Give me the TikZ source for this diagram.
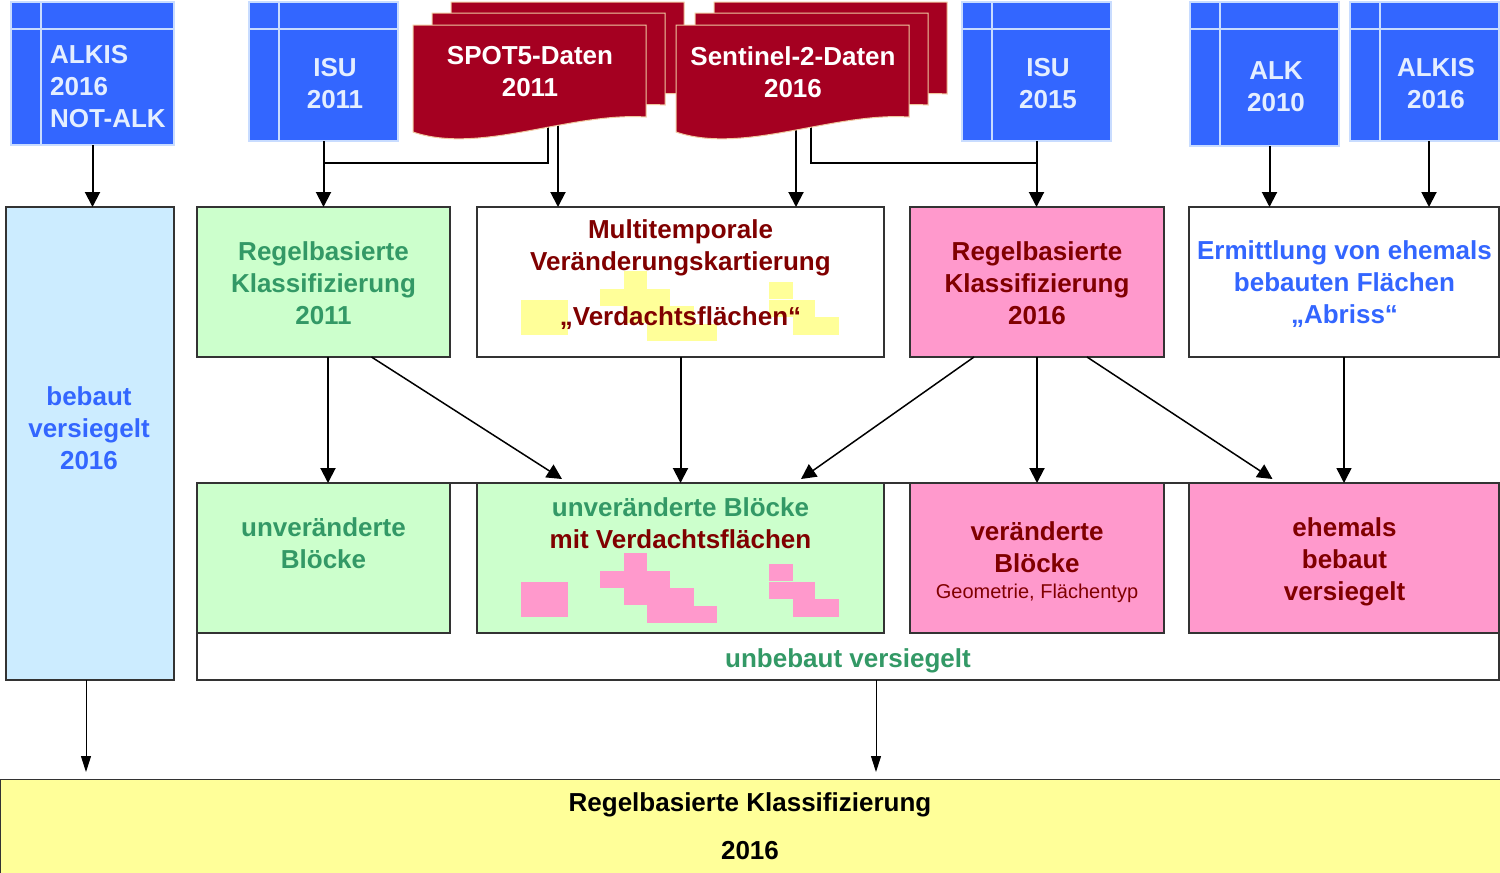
\documentclass[tikz,border=0pt]{standalone}
\usepackage{fontspec}
\setmainfont{Liberation Sans}
\usetikzlibrary{arrows.meta,fit,calc}
\definecolor{dbblue}{HTML}{3366FF}
\definecolor{dbedge}{HTML}{C8DCFF}
\definecolor{dbtext}{HTML}{E4EEFF}
\definecolor{docred}{HTML}{A50021}
\definecolor{docedge}{HTML}{F0C8A0}
\definecolor{grfill}{HTML}{CCFFCC}
\definecolor{grtext}{HTML}{339966}
\definecolor{drtext}{HTML}{800000}
\definecolor{bltext}{HTML}{3366FF}
\definecolor{lbfill}{HTML}{CCECFF}
\definecolor{pkfill}{HTML}{FF99CC}
\definecolor{ylfill}{HTML}{FFFF99}
\definecolor{boxline}{HTML}{333333}
\tikzset{
  bx/.style={draw=boxline, line width=1.5pt, inner sep=0pt, outer sep=0pt, align=center},
  db/.style={draw=dbedge, fill=dbblue, line width=1.2pt, inner sep=0pt, outer sep=0pt},
  dbln/.style={draw=dbedge, line width=1.5pt},
  dbtxt/.style={text=dbtext, align=center},
  docst/.style={fill=docred, draw=docedge, line width=1pt},
  doc/.pic={\path[docst] (0,0) -- ++(233,0) -- ++(0,92) .. controls +(-76,-5) and +(67,23) .. ++(-233,15) -- cycle;},
  arr/.style={line width=2pt, -{Triangle[width=15pt,length=15pt]}},
  arrd/.style={line width=1.5pt, -{Triangle[width=15pt,length=15pt]}},
  arrt/.style={line width=1pt, -{Triangle[width=10pt,length=16pt]}},
  ln/.style={line width=2pt},
  txt/.style={align=center, inner sep=0pt},
  small/.style={font=\fontsize{20}{24}\selectfont}
}
\newcommand\dbbox[5]{%
  \node[db, fit={(#2,#3) (#4,#5)}] (#1) {};
  \draw[dbln] ([xshift=30pt]#1.north west) -- ([xshift=30pt]#1.south west);
  \draw[dbln] ([yshift=-27pt]#1.north west) -- ([yshift=-27pt]#1.north east);
}
\newcommand\blockpattern[2]{%
  \begin{scope}[yshift=#2]
    \fill[#1] (521,582) rectangle (568,617);
    \fill[#1] (600,571) rectangle (647,588);
    \fill[#1] (624,553) rectangle (647,605);
    \fill[#1] (647,571) rectangle (670,623);
    \fill[#1] (670,588) rectangle (694,623);
    \fill[#1] (694,606) rectangle (717,623);
    \fill[#1] (769,564) rectangle (793,581);
    \fill[#1] (769,582) rectangle (815,599);
    \fill[#1] (793,599) rectangle (815,617);
    \fill[#1] (815,599) rectangle (839,617);
  \end{scope}}
\begin{document}
\begin{tikzpicture}[x=1pt,y=-1pt,font=\bfseries\fontsize{26}{32}\selectfont]
\useasboundingbox (0,0) rectangle (1500,873);
\fill[white] (0,0) rectangle (1500,873);

% containers and boxes
\node[bx, fill=white, fit={(197,483) (1499,680)}] (ub) {};
\node[bx, fill=lbfill, fit={(6,207) (174,680)}] (bv) {};
\node[bx, fill=grfill, fit={(197,207) (450,357)}] (r11) {};
\node[bx, fill=white, fit={(477,207) (884,357)}] (mt) {};
\node[bx, fill=pkfill, fit={(910,207) (1164,357)}] (r16) {};
\node[bx, fill=white, fit={(1189,207) (1499,357)}] (erm) {};
\node[bx, fill=grfill, fit={(197,483) (450,633)}] (uv) {};
\node[bx, fill=grfill, fit={(477,483) (884,633)}] (mv) {};
\node[bx, fill=pkfill, fit={(910,483) (1164,633)}] (vc) {};
\node[bx, fill=pkfill, fit={(1189,483) (1499,633)}] (eb) {};
\node[bx, line width=1pt, fill=ylfill, fit={(0,779) (1500,873)}] (yl) {};

% block patterns
\blockpattern{ylfill}{282pt}
\blockpattern{pkfill}{0pt}

% texts
\node[txt, text=bltext] (bvt) at (89,427.8) {bebaut\\versiegelt\\2016};
\node[txt, text=grtext] (r11t) at (323.5,282.8) {Regelbasierte\\Klassifizierung\\2011};
\node[txt, text=drtext] (mtt1) at (680.5,247.5) {Multitemporale\\Veränderungskartierung};
\node[txt, text=drtext] (mtt2) at (680.5,318) {„Verdachtsflächen“};
\node[txt, text=drtext] (r16t) at (1037,282.8) {Regelbasierte\\Klassifizierung\\2016};
\node[txt, text=bltext] (ermt) at (1344.5,284.1) {Ermittlung von ehemals\\bebauten Flächen\\„Abriss“};
\node[txt, text=grtext] (uvt) at (323.5,542.8) {unveränderte\\Blöcke};
\node[txt] (mvt) at (680.5,522.8) {\textcolor{grtext}{unveränderte Blöcke}\\\textcolor{drtext}{mit Verdachtsflächen}};
\node[txt, text=drtext] (vct) at (1037,546.8) {veränderte\\Blöcke};
\node[txt, text=drtext, small] (vcs) at (1037,593) {Geometrie, Flächentyp};
\node[txt, text=drtext] (ebt) at (1344.5,561.5) {ehemals\\bebaut\\versiegelt};
\node[txt, text=grtext] (ubt) at (848,660.5) {unbebaut versiegelt};
\node[txt] (ylt1) at (750,804.5) {Regelbasierte Klassifizierung};
\node[txt] (ylt2) at (750,851) {2016};

% doc connector anchors
\coordinate (spa) at (548,120);
\coordinate (spb) at (558,120);
\coordinate (sea) at (811,120);
\coordinate (seb) at (796,120);

% data source icons (boxes only, for connector anchors)
\dbbox{alkn}{11}{2}{174}{145}
\dbbox{isu11}{249}{2}{398}{141}
\dbbox{isu15}{962}{2}{1111}{141}
\dbbox{alk10}{1190}{2}{1339}{146}
\dbbox{alkis16}{1350}{2}{1499}{141}

% connectors top
\draw[arr] (alkn.south) -- (alkn.south |- bv.north);
\draw[arr] (isu11.south) -- (isu11.south |- r11.north);
\draw[ln] (spa) |- ([yshift=-22pt]isu11.south);
\draw[arr] (spb) -- (spb |- mt.north);
\draw[arr] (seb) -- (seb |- mt.north);
\draw[ln] (sea) |- ([yshift=-22pt]isu15.south);
\draw[arr] (isu15.south) -- (isu15.south |- r16.north);
\draw[arr] ([xshift=5pt]alk10.south) -- ([xshift=5pt]alk10.south |- erm.north);
\draw[arr] ([xshift=4.5pt]alkis16.south) -- ([xshift=4.5pt]alkis16.south |- erm.north);

% connectors middle
\draw[arr] ([xshift=4.5pt]r11.south) -- ([xshift=4.5pt]r11.south |- uv.north);
\draw[arrd] ([xshift=48pt]r11.south) -- ([xshift=-118.5pt,yshift=4pt]mv.north);
\draw[arr] (mt.south) -- (mv.north);
\draw[arrd] ([xshift=-63pt]r16.south) -- ([xshift=120.5pt,yshift=4pt]mv.north);
\draw[arr] (r16.south) -- (vc.north);
\draw[arrd] ([xshift=50pt]r16.south) -- ([xshift=-71.5pt,yshift=4pt]eb.north);
\draw[arrd] (erm.south) -- (eb.north);

% connectors bottom
\draw[arrt, shorten >=7pt] ([xshift=-4pt]bv.south) -- ([xshift=-4pt]bv.south |- yl.north);
\draw[arrt, shorten >=7pt] ([xshift=28pt]ub.south) -- ([xshift=28pt]ub.south |- yl.north);

% document stacks
\pic at (451,2) {doc};
\pic at (432,13) {doc};
\pic at (413,25) {doc};
\pic at (714,2) {doc};
\pic at (695,13) {doc};
\pic at (676,25) {doc};
\node[txt, text=white] (spot) at (530,71.8) {SPOT5-Daten\\2011};
\node[txt, text=white] (sent) at (793,71.8) {Sentinel-2-Daten\\2016};

% data source labels
\node[dbtxt, inner sep=0pt, align=left, anchor=west] (alknt) at (50,86.8) {ALKIS\\2016\\NOT-ALK};
\node[dbtxt, inner sep=0pt] (isu11t) at (335,83.8) {ISU\\2011};
\node[dbtxt, inner sep=0pt] (isu15t) at (1048,83.8) {ISU\\2015};
\node[dbtxt, inner sep=0pt] (alk10t) at (1276,86.8) {ALK\\2010};
\node[dbtxt, inner sep=0pt] (alkis16t) at (1436,83.8) {ALKIS\\2016};
\end{tikzpicture}
\end{document}
